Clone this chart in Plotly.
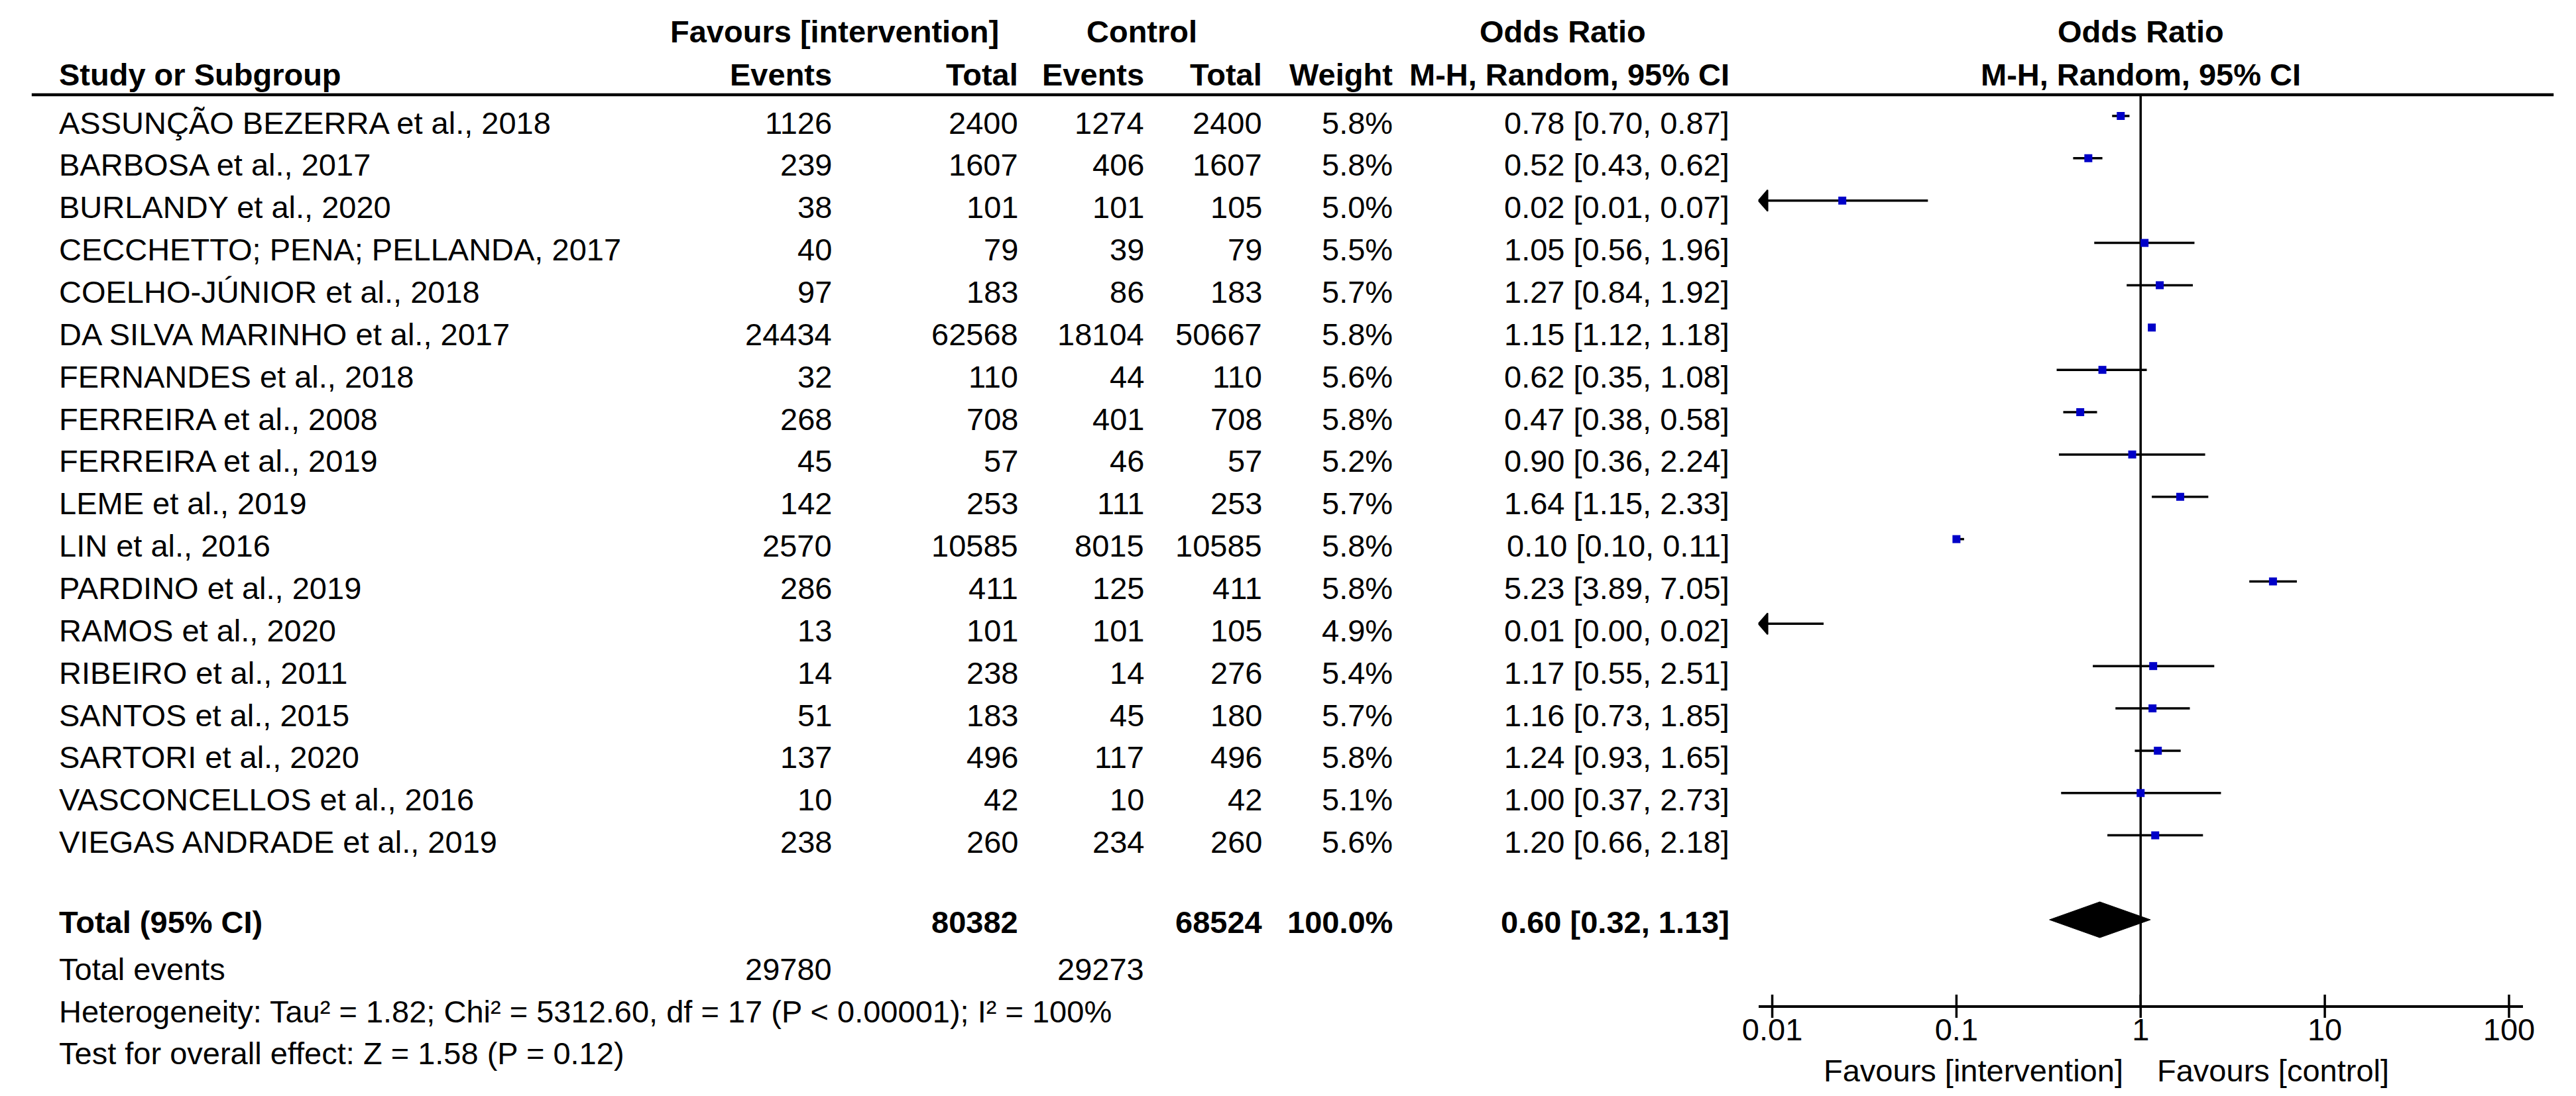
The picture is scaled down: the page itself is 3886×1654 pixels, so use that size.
import math
import plotly.graph_objects as go

# ---------------- data ----------------
studies = [
    "ASSUNÇÃO BEZERRA et al., 2018",
    "BARBOSA et al., 2017",
    "BURLANDY et al., 2020",
    "CECCHETTO; PENA; PELLANDA, 2017",
    "COELHO-JÚNIOR et al., 2018",
    "DA SILVA MARINHO et al., 2017",
    "FERNANDES et al., 2018",
    "FERREIRA et al., 2008",
    "FERREIRA et al., 2019",
    "LEME et al., 2019",
    "LIN et al., 2016",
    "PARDINO et al., 2019",
    "RAMOS et al., 2020",
    "RIBEIRO et al., 2011",
    "SANTOS et al., 2015",
    "SARTORI et al., 2020",
    "VASCONCELLOS et al., 2016",
    "VIEGAS ANDRADE et al., 2019",
]
events_int = [1126, 239, 38, 40, 97, 24434, 32, 268, 45, 142, 2570, 286, 13, 14, 51, 137, 10, 238]
total_int = [2400, 1607, 101, 79, 183, 62568, 110, 708, 57, 253, 10585, 411, 101, 238, 183, 496, 42, 260]
events_ctl = [1274, 406, 101, 39, 86, 18104, 44, 401, 46, 111, 8015, 125, 101, 14, 45, 117, 10, 234]
total_ctl = [2400, 1607, 105, 79, 183, 50667, 110, 708, 57, 253, 10585, 411, 105, 276, 180, 496, 42, 260]
weights = [5.8, 5.8, 5.0, 5.5, 5.7, 5.8, 5.6, 5.8, 5.2, 5.7, 5.8, 5.8, 4.9, 5.4, 5.7, 5.8, 5.1, 5.6]
odds_ratio = [0.78, 0.52, 0.024, 1.05, 1.27, 1.15, 0.62, 0.47, 0.90, 1.64, 0.10, 5.23, 0.006, 1.17, 1.16, 1.24, 1.00, 1.20]
ci_low = [0.70, 0.43, 0.006, 0.56, 0.84, 1.12, 0.35, 0.38, 0.36, 1.15, 0.10, 3.89, 0.002, 0.55, 0.73, 0.93, 0.37, 0.66]
ci_high = [0.87, 0.62, 0.07, 1.96, 1.92, 1.18, 1.08, 0.58, 2.24, 2.33, 0.11, 7.05, 0.019, 2.51, 1.85, 1.65, 2.73, 2.18]

total_n_int = 80382
total_n_ctl = 68524
total_weight = 100.0
total_events_int = 29780
total_events_ctl = 29273
pooled_or = 0.60
pooled_low = 0.32
pooled_high = 1.13
heterogeneity_text = "Heterogeneity: Tau² = 1.82; Chi² = 5312.60, df = 17 (P < 0.00001); I² = 100%"
overall_text = "Test for overall effect: Z = 1.58 (P = 0.12)"
tick_vals = [0.01, 0.1, 1, 10, 100]
tick_text = ["0.01", "0.1", "1", "10", "100"]

# ---------------- layout constants (pixels) ----------------
W, H = 3886, 1654
FONT = "Liberation Sans, Arial, sans-serif"
FS = 47
ROW0 = 177.0
ROW_H = 63.86
MARK_DY = -10
TOTAL_ROW = 18.9
HDR_A = 39
HDR_B = 104
HDR_LINE = 135
AXIS_Y = 1511
X_NAME, X_EV_I, X_TOT_I, X_EV_C, X_TOT_C, X_WT, X_OR = 56, 1237, 1521, 1713, 1893, 2092, 2606
FOREST_L, FOREST_R = 2649, 3815
LOG_MIN, LOG_MAX = -2.075, 2.075
DEC_PX = (FOREST_R - FOREST_L) / (LOG_MAX - LOG_MIN)
BLUE = "rgb(0,0,200)"


def row_y(i):
    return ROW0 + i * ROW_H


fig = go.Figure()
annotations = []


def txt(x, y, s, anchor="right", bold=False, xref="paper", xshift=0):
    annotations.append(dict(
        x=(x / W) if xref == "paper" else x, y=y, xref=xref, yref="y",
        text=("<b>%s</b>" % s) if bold else s, showarrow=False,
        xanchor=anchor, yanchor="middle", borderpad=0, xshift=xshift,
        font=dict(family=FONT, size=FS, color="black"),
    ))


# headers
txt(1240, HDR_A, "Favours [intervention]", "center", True)
txt(1708, HDR_A, "Control", "center", True)
txt(2351, HDR_A, "Odds Ratio", "center", True)
txt(0, HDR_A, "Odds Ratio", "center", True, xref="x")
txt(X_NAME, HDR_B, "Study or Subgroup", "left", True)
txt(X_EV_I, HDR_B, "Events", "right", True)
txt(X_TOT_I, HDR_B, "Total", "right", True)
txt(X_EV_C, HDR_B, "Events", "right", True)
txt(X_TOT_C, HDR_B, "Total", "right", True)
txt(X_WT, HDR_B, "Weight", "right", True)
txt(X_OR, HDR_B, "M-H, Random, 95% CI", "right", True)
txt(0, HDR_B, "M-H, Random, 95% CI", "center", True, xref="x")

# study rows
for i, name in enumerate(studies):
    y = row_y(i)
    txt(X_NAME, y, name, "left")
    txt(X_EV_I, y, str(events_int[i]))
    txt(X_TOT_I, y, str(total_int[i]))
    txt(X_EV_C, y, str(events_ctl[i]))
    txt(X_TOT_C, y, str(total_ctl[i]))
    txt(X_WT, y, "%.1f%%" % weights[i])
    txt(X_OR, y, "%.2f [%.2f, %.2f]" % (odds_ratio[i], ci_low[i], ci_high[i]))

# total rows
yt = row_y(TOTAL_ROW)
txt(X_NAME, yt, "Total (95% CI)", "left", True)
txt(X_TOT_I, yt, str(total_n_int), "right", True)
txt(X_TOT_C, yt, str(total_n_ctl), "right", True)
txt(X_WT, yt, "%.1f%%" % total_weight, "right", True)
txt(X_OR, yt, "%.2f [%.2f, %.2f]" % (pooled_or, pooled_low, pooled_high), "right", True)
txt(X_NAME, row_y(20), "Total events", "left")
txt(X_EV_I, row_y(20), str(total_events_int))
txt(X_EV_C, row_y(20), str(total_events_ctl))
txt(X_NAME, row_y(21), heterogeneity_text, "left")
txt(X_NAME, row_y(22), overall_text, "left")

# forest axis labels
txt(0, 1607, "Favours [intervention]", "right", xref="x", xshift=-25)
txt(0, 1607, "Favours [control]", "left", xref="x", xshift=24)

# ---------------- forest marks ----------------
# line of no effect
fig.add_trace(go.Scatter(x=[1, 1], y=[HDR_LINE, AXIS_Y], mode="lines",
                         line=dict(color="black", width=3.5), hoverinfo="skip"))

# ticks crossing the axis (drawn on the log scale)
tx, ty = [], []
for t in tick_vals:
    tx += [t, t, None]
    ty += [AXIS_Y - 18, AXIS_Y + 17, None]
fig.add_trace(go.Scatter(x=tx, y=ty, mode="lines", line=dict(color="black", width=3.5),
                         hoverinfo="skip", cliponaxis=False))

# CI lines
cx, cy = [], []
for i in range(len(studies)):
    ym = row_y(i) + MARK_DY
    cx += [ci_low[i], ci_high[i], None]
    cy += [ym, ym, None]
fig.add_trace(go.Scatter(x=cx, y=cy, mode="lines", line=dict(color="black", width=3.5),
                         hoverinfo="skip"))

# arrows for CIs extending beyond the axis
x_min = 10 ** LOG_MIN
for i in range(len(studies)):
    if ci_low[i] < x_min:
        ym = row_y(i) + MARK_DY
        back = 10 ** (LOG_MIN + 14 / DEC_PX)
        fig.add_trace(go.Scatter(x=[x_min, back, back, x_min], y=[ym, ym - 16, ym + 16, ym],
                                 mode="lines", fill="toself", fillcolor="black",
                                 line=dict(color="black", width=2), cliponaxis=False,
                                 hoverinfo="skip"))

# study squares
fig.add_trace(go.Scatter(x=odds_ratio, y=[row_y(i) + MARK_DY for i in range(len(studies))],
                         mode="markers",
                         marker=dict(symbol="square", size=12, color=BLUE, line=dict(width=0)),
                         hoverinfo="skip"))

# pooled diamond
yd = 1380
fig.add_trace(go.Scatter(x=[pooled_low, pooled_or, pooled_high, pooled_or, pooled_low],
                         y=[yd, yd - 27, yd, yd + 27, yd], mode="lines", fill="toself",
                         fillcolor="black", line=dict(color="black", width=1), hoverinfo="skip"))

# header rule
shapes = [dict(type="line", xref="paper", yref="y", x0=15 / W, x1=3862 / W,
               y0=HDR_LINE, y1=HDR_LINE, line=dict(color="black", width=4.5))]

fig.update_layout(
    width=W, height=H, margin=dict(l=0, r=0, t=0, b=0),
    paper_bgcolor="white", plot_bgcolor="white", showlegend=False,
    font=dict(family=FONT, size=FS, color="black"),
    annotations=annotations, shapes=shapes,
    xaxis=dict(type="log", range=[LOG_MIN, LOG_MAX], domain=[FOREST_L / W, FOREST_R / W],
               anchor="free", position=(H - AXIS_Y) / H,
               showline=True, linecolor="black", linewidth=3.5,
               ticks="", tickvals=tick_vals, ticktext=tick_text,
               ticklabelstandoff=-7,
               tickfont=dict(family=FONT, size=FS, color="black"),
               showgrid=False, zeroline=False, fixedrange=True),
    yaxis=dict(range=[H, 0], domain=[0, 1], visible=False, showgrid=False,
               zeroline=False, fixedrange=True),
)

fig.write_html("out.html")
